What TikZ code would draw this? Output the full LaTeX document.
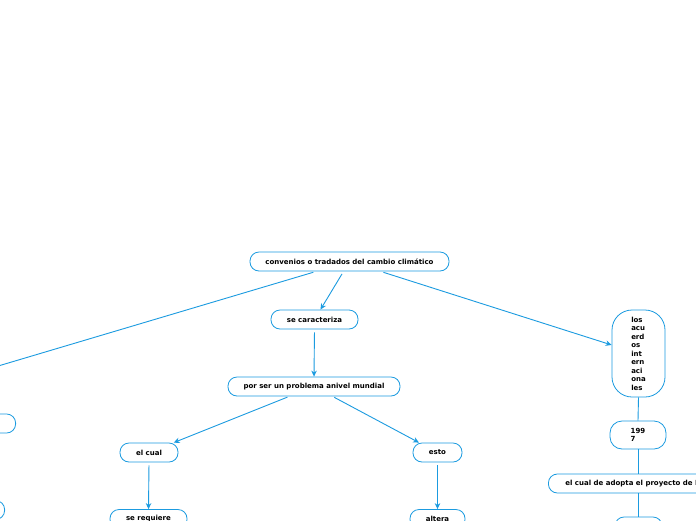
\documentclass[tikz,border=0pt]{standalone}
\usepackage{fontspec}
\setmainfont{DejaVu Sans}
\usetikzlibrary{arrows.meta}
\definecolor{mmblue}{HTML}{1B9BE0}
\newcommand{\fs}{\fontsize{7}{8.5}\selectfont\bfseries}
\tikzset{
  box/.style={draw=mmblue, line width=0.8pt, rounded corners=9pt, fill=white, font=\fs, inner sep=0pt, minimum height=19pt, text=black},
  link/.style={draw=mmblue, line width=0.9pt},
  arr/.style={link, -{Stealth[length=6pt,width=5.5pt]}}
}
\begin{document}
\begin{tikzpicture}[x=1pt,y=-1pt]
\useasboundingbox (0,0) rectangle (696,520);
\clip (0,0) rectangle (696,520);
\fill[white] (0,0) rectangle (696,520);
% nodes
\node[box, minimum width=199pt] (root) at (349.5,261.5) {convenios o tradados del cambio climático};
\node[box, minimum width=87pt] (sc) at (314.5,319.5) {se caracteriza};
\node[box, minimum width=172pt] (ps) at (314,386.5) {por ser un problema anivel mundial};
\node[box, minimum width=58pt] (ec) at (149,452.5) {el cual};
\node[box, minimum width=49pt] (esto) at (437.5,452.5) {esto};
\node[box, minimum width=77pt] (sr) at (148.5,519) {se requiere};
\node[box, minimum width=55pt] (alt) at (437.5,519) {altera};
\node[box, minimum width=53pt, minimum height=87pt, rounded corners=20pt, align=left] (acu) at (638.5,353.5) {los\\acu\\erd\\os\\int\\ern\\aci\\ona\\les};
\node[box, minimum width=56pt, minimum height=28pt, rounded corners=12pt, align=left] (y97) at (638,435) {199\\7};
\node[box, inner xsep=17pt, anchor=west] (kyo) at (548,483.5) {el cual de adopta el proyecto de Kioto};
\node[box, minimum width=47pt, minimum height=20pt] (bot) at (638.5,527) {};
\node[box, minimum width=80pt, anchor=east] (l1) at (16,423.5) {};
\node[box, minimum width=80pt, anchor=east] (l2) at (5,510) {};
\coordinate (lft) at (-60,383.3);
% connectors
\draw[link, shorten <=3pt] (root) -- (lft);
\draw[arr, shorten <=3pt] (root) -- (sc);
\draw[arr, shorten <=3pt] (root) -- (acu);
\draw[arr, shorten <=3pt] (sc.south) -- (ps.north);
\draw[arr, shorten <=2pt] (ps) -- (ec);
\draw[arr, shorten <=2pt] (ps) -- (esto);
\draw[arr, shorten <=3pt] (ec.south) -- (sr.north);
\draw[arr, shorten <=3pt] (esto.south) -- (alt.north);
\draw[link] (acu.south) -- (y97.north);
\draw[link] (y97.south) -- (y97.south |- kyo.north);
\draw[link] (bot.north |- kyo.south) -- (bot.north);
\end{tikzpicture}
\end{document}
